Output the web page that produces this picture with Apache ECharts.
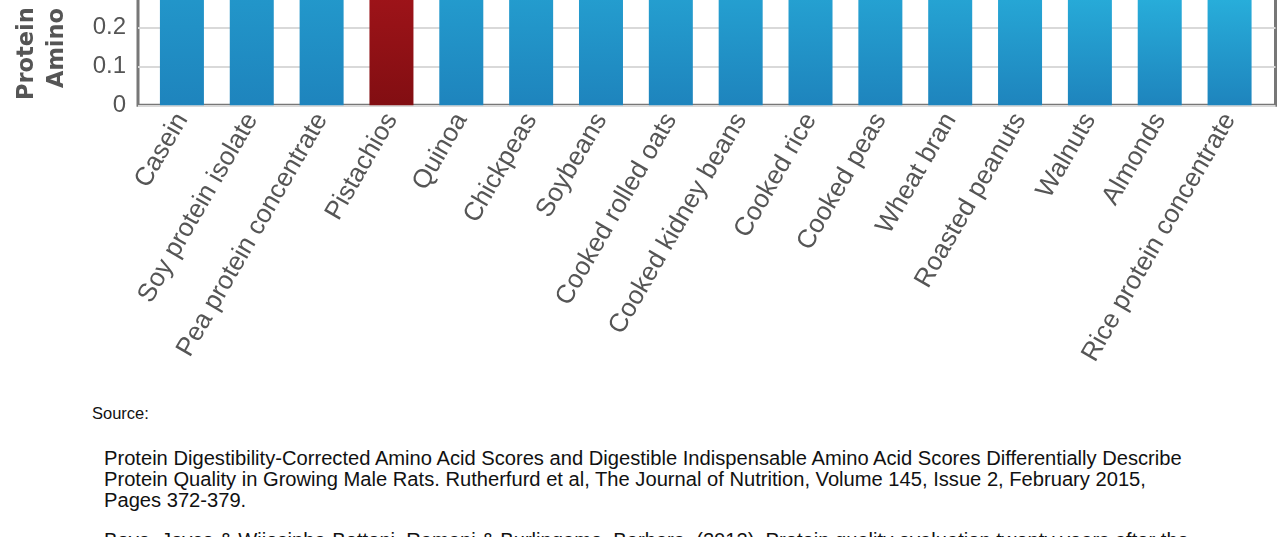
<!DOCTYPE html>
<html>
<head>
<meta charset="utf-8">
<script src="https://cdn.jsdelivr.net/npm/echarts@6/dist/echarts.min.js"></script>
<style>
  html, body {
    margin: 0;
    padding: 0;
    width: 1277px;
    height: 537px;
    overflow: hidden;
    background: #fff;
    position: relative;
    font-family: "Liberation Sans", Arial, sans-serif;
  }
  #chart {
    position: absolute;
    left: 0;
    top: -400px;
    width: 1277px;
    height: 780px;
  }
  .src {
    position: absolute;
    font-size: 20.15px;
    line-height: 21px;
    color: #111;
    white-space: nowrap;
  }
  #srcLabel { left: 92px; top: 403px; font-size: 16.5px; }
  #ref1 { left: 104px; top: 448px; }
  #ref2 { left: 104px; top: 530px; }
</style>
</head>
<body>
<div id="chart"></div>
<div class="src" id="srcLabel">Source:</div>
<div class="src" id="ref1">Protein Digestibility-Corrected Amino Acid Scores and Digestible Indispensable Amino Acid Scores Differentially Describe<br>Protein Quality in Growing Male Rats. Rutherfurd et al, The Journal of Nutrition, Volume 145, Issue 2, February 2015,<br>Pages 372-379.</div>
<div class="src" id="ref2">Boye, Joyce &amp; Wijesinha-Bettoni, Ramani &amp; Burlingame, Barbara. (2012). Protein quality evaluation twenty years after the</div>

<script>
// foods, in the order shown
const foods = ['Casein', 'Soy protein isolate', 'Pea protein concentrate', 'Pistachios', 'Quinoa',
  'Chickpeas', 'Soybeans', 'Cooked rolled oats', 'Cooked kidney beans', 'Cooked rice', 'Cooked peas',
  'Wheat bran', 'Roasted peanuts', 'Walnuts', 'Almonds', 'Rice protein concentrate']
// PDCAAS values (tops are cut off in the picture, estimated)
const scores = [1.0, 0.98, 0.89, 0.83, 0.78, 0.74, 0.71, 0.67, 0.65, 0.62, 0.6, 0.56, 0.51, 0.46, 0.43, 0.42]
const highlight = 'Pistachios'
const yTitle = ['Protein Digestibility-Corrected', 'Amino Acid Score (PDCAAS)']

const blue = new echarts.graphic.LinearGradient(0, 0, 0, 1, [
  { offset: 0, color: '#2dc4ea' },
  { offset: 1, color: '#1e84bd' }
])
const red = new echarts.graphic.LinearGradient(0, 0, 0, 1, [
  { offset: 0, color: '#d41e26' },
  { offset: 1, color: '#820e12' }
])

let myChart = echarts.init(document.getElementById('chart'))

const gridTop = 38.5
const gridBottom = 274.7
const titleFont = 'bold 22.5px "DejaVu Sans"'

let option = {
  animation: false,
  grid: [
    // outer box with border and gridlines
    { left: 138, right: 1.5, top: gridTop, bottom: gridBottom, show: true, borderColor: '#777', borderWidth: 3, backgroundColor: 'transparent' },
    // inner area for bars (a bit of padding inside the box)
    { left: 147, right: 12.5, top: gridTop, bottom: gridBottom }
  ],
  xAxis: [
    { gridIndex: 0, type: 'value', show: false, min: 0, max: 1 },
    {
      gridIndex: 1,
      type: 'category',
      data: foods,
      axisLine: { show: false },
      axisTick: { show: false },
      axisLabel: {
        interval: 0,
        rotate: 60,
        margin: 10,
        color: '#555',
        fontSize: 26,
        fontFamily: 'Liberation Sans'
      }
    }
  ],
  yAxis: [
    {
      gridIndex: 0,
      type: 'value',
      min: 0,
      max: 1.2,
      interval: 0.1,
      axisLine: { show: false },
      axisTick: { show: false },
      axisLabel: { color: '#555', fontSize: 24, fontFamily: 'Liberation Sans', margin: 12 },
      splitLine: { lineStyle: { color: '#d9d9d9', width: 2 } }
    },
    { gridIndex: 1, type: 'value', min: 0, max: 1.2, show: false, splitLine: { show: false } }
  ],
  series: [
    {
      type: 'bar',
      xAxisIndex: 1,
      yAxisIndex: 1,
      barWidth: 44,
      data: scores.map((v, i) => ({
        value: v,
        itemStyle: { color: foods[i] === highlight ? red : blue }
      }))
    }
  ],
  graphic: [
    {
      type: 'text',
      x: 27,
      y: 500,
      rotation: Math.PI / 2,
      style: { text: yTitle[0], fill: '#555', font: titleFont, textAlign: 'left', textVerticalAlign: 'middle' }
    },
    {
      type: 'text',
      x: 57.5,
      y: 488,
      rotation: Math.PI / 2,
      style: { text: yTitle[1], fill: '#555', font: titleFont, textAlign: 'left', textVerticalAlign: 'middle' }
    }
  ]
}
myChart.setOption(option)
</script>
</body>
</html>
